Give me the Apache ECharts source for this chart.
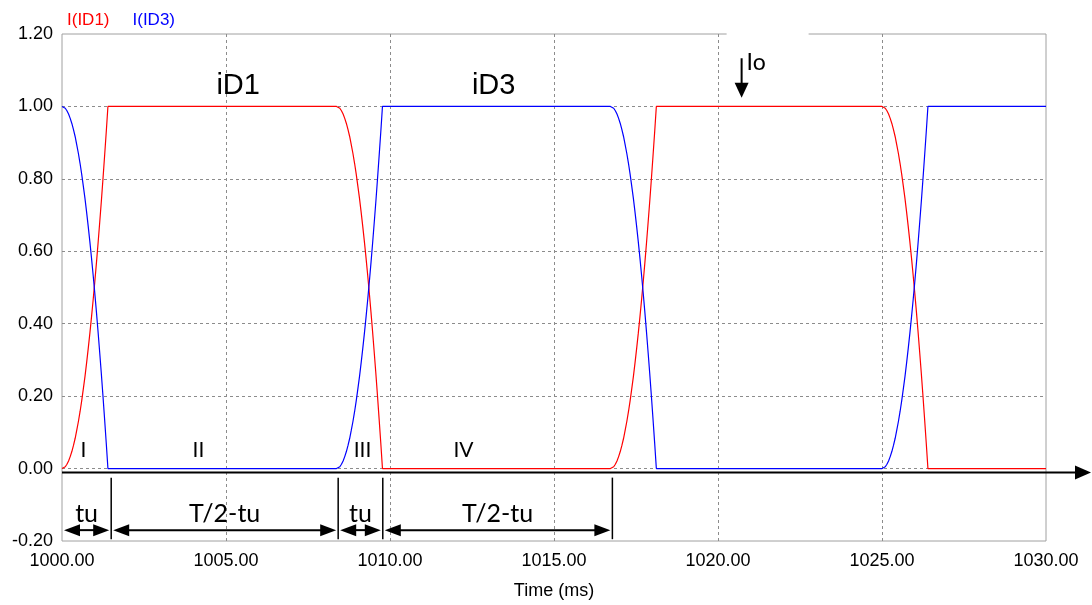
<!DOCTYPE html>
<html>
<head>
<meta charset="utf-8">
<title>I(ID1) I(ID3)</title>
<script src="https://cdn.jsdelivr.net/npm/echarts@6/dist/echarts.min.js"></script>
<style>
  html, body { margin: 0; padding: 0; background: #ffffff; }
  #chart { width: 1092px; height: 605px; }
</style>
</head>
<body>
<div id="chart"></div>
<script>
// Diode currents during commutation (time in ms, current per unit)
const seriesNames = ['I(ID1)', 'I(ID3)'];
const seriesColors = ['#ff0000', '#0000ff'];

// start of each commutation interval (ms)
const edgeStart = [1000.00, 1008.37, 1016.72, 1025.00];
// time offsets inside a commutation interval (ms)
const edgeStep = [0.00, 0.05, 0.10, 0.15, 0.20, 0.25, 0.30, 0.35, 0.40, 0.45,
                  0.50, 0.55, 0.60, 0.65, 0.70, 0.75, 0.80, 0.85, 0.90, 0.95,
                  1.00, 1.05, 1.10, 1.15, 1.20, 1.25, 1.30, 1.35, 1.40];
// incoming diode current during overlap
const riseShape = [0.000, 0.001, 0.005, 0.012, 0.021, 0.033, 0.047, 0.064, 0.083, 0.106,
                   0.130, 0.157, 0.187, 0.220, 0.254, 0.292, 0.332, 0.374, 0.419, 0.466,
                   0.516, 0.568, 0.623, 0.680, 0.739, 0.801, 0.865, 0.931, 1.000];
// outgoing diode current during overlap
const fallShape = [1.000, 0.999, 0.995, 0.988, 0.979, 0.967, 0.953, 0.936, 0.917, 0.894,
                   0.870, 0.843, 0.813, 0.780, 0.746, 0.708, 0.668, 0.626, 0.581, 0.534,
                   0.484, 0.432, 0.377, 0.320, 0.261, 0.199, 0.135, 0.069, 0.000];
// which diode takes the current at each edge: 1 = ID1 rises, 3 = ID3 rises
const edgeIncoming = [1, 3, 1, 3];
const endTime = 1030.00;

// axis ticks
const xTicks = { min: 1000, max: 1030, interval: 5 };
const yTicks = { min: -0.2, max: 1.2, interval: 0.2 };

// annotation data
const boundaryTimes = [1000.00, 1001.50, 1008.42, 1009.78, 1016.78];
const spanLabels = ['tu', 'T/2-tu', 'tu', 'T/2-tu'];
const intervalNames = ['I', 'II', 'III', 'IV'];
const intervalTimes = [1000.65, 1004.16, 1009.16, 1012.24];
const curveLabels = ['iD1', 'iD3'];
const curveLabelTimes = [1005.37, 1013.16];
const ioTime = 1020.72;

function buildSeries(diode) {
  const pts = [];
  edgeStart.forEach((t0, k) => {
    const shape = edgeIncoming[k] === diode ? riseShape : fallShape;
    edgeStep.forEach((dt, j) => pts.push([+(t0 + dt).toFixed(3), shape[j]]));
  });
  const last = pts[pts.length - 1][1];
  pts.push([endTime, last]);
  return pts;
}
const id1Data = buildSeries(1);
const id3Data = buildSeries(3);

const chart = echarts.init(document.getElementById('chart'), null, { renderer: 'canvas' });
const AX_FONT = 'Liberation Sans, Arial, sans-serif';
const NOTE_FONT = 'Lato, Noto Sans, sans-serif';

const option = {
  animation: false,
  backgroundColor: '#ffffff',
  legend: {
    left: 57, top: 7,
    icon: 'none', itemWidth: 0, itemHeight: 0, itemGap: 18,
    selectedMode: false,
    textStyle: { fontSize: 17, fontFamily: AX_FONT, padding: 0 },
    data: [
      { name: seriesNames[0], textStyle: { color: seriesColors[0] } },
      { name: seriesNames[1], textStyle: { color: seriesColors[1] } }
    ]
  },
  grid: {
    left: 62, right: 46, top: 34, bottom: 62,
    show: true, borderColor: '#a0a0a0', borderWidth: 1
  },
  xAxis: {
    type: 'value', min: xTicks.min, max: xTicks.max, interval: xTicks.interval,
    name: 'Time (ms)', nameLocation: 'middle', nameGap: 41,
    nameTextStyle: { fontSize: 18, fontFamily: AX_FONT, color: '#000' },
    axisLine: { show: false }, axisTick: { show: false },
    axisLabel: { fontSize: 18, fontFamily: AX_FONT, color: '#000', margin: 11,
      formatter: v => v.toFixed(2) },
    splitLine: { show: true, showMinLine: false, showMaxLine: false,
      lineStyle: { color: '#8c8c8c', type: [3, 3], width: 1 } }
  },
  yAxis: {
    type: 'value', min: yTicks.min, max: yTicks.max, interval: yTicks.interval,
    axisLine: { show: false }, axisTick: { show: false },
    axisLabel: { fontSize: 18, fontFamily: AX_FONT, color: '#000', margin: 9,
      formatter: v => v.toFixed(2) },
    splitLine: { show: true, showMinLine: false, showMaxLine: false,
      lineStyle: { color: '#8c8c8c', type: [3, 3], width: 1 } }
  },
  series: [
    { name: seriesNames[0], type: 'line', data: id1Data, showSymbol: false,
      color: seriesColors[0], lineStyle: { width: 1.2, color: seriesColors[0] } },
    { name: seriesNames[1], type: 'line', data: id3Data, showSymbol: false,
      color: seriesColors[1], lineStyle: { width: 1.2, color: seriesColors[1] } }
  ]
};
chart.setOption(option);

// ---- annotations drawn in pixel space from data coordinates ----
function px(t, v) { return chart.convertToPixel({ gridIndex: 0 }, [t, v]); }

function arrowHead(tipX, tipY, dir, len, half) {
  // dir: 'left' | 'right' | 'down'
  if (dir === 'left') return [[tipX, tipY], [tipX + len, tipY - half], [tipX + len, tipY + half]];
  if (dir === 'right') return [[tipX, tipY], [tipX - len, tipY - half], [tipX - len, tipY + half]];
  return [[tipX, tipY], [tipX - half, tipY - len], [tipX + half, tipY - len]];
}

function buildAnnotations() {
  const g = [];
  const black = '#000000';

  // time axis arrow just below the zero line
  const axY = px(1000, -0.011)[1];
  const axX0 = px(1000, 0)[0];
  const tipX = 1091;
  g.push({ type: 'line', shape: { x1: axX0, y1: axY, x2: tipX - 10, y2: axY },
    style: { stroke: black, lineWidth: 2 }, z: 100 });
  g.push({ type: 'polygon', shape: { points: arrowHead(tipX, axY, 'right', 16, 7) },
    style: { fill: black }, z: 100 });

  // boundary markers
  boundaryTimes.slice(1).forEach(t => {
    const a = px(t, -0.025), b = px(t, -0.195);
    g.push({ type: 'line', shape: { x1: a[0], y1: a[1], x2: b[0], y2: b[1] },
      style: { stroke: black, lineWidth: 1.5 }, z: 100 });
  });

  // double arrows with span labels
  for (let i = 0; i < spanLabels.length; i++) {
    const l = px(boundaryTimes[i], -0.17), r = px(boundaryTimes[i + 1], -0.17);
    const x1 = l[0] + 2, x2 = r[0] - 2, y = l[1];
    g.push({ type: 'line', shape: { x1: x1 + 10, y1: y, x2: x2 - 10, y2: y },
      style: { stroke: black, lineWidth: 2 }, z: 100 });
    g.push({ type: 'polygon', shape: { points: arrowHead(x1, y, 'left', 16, 6) },
      style: { fill: black }, z: 100 });
    g.push({ type: 'polygon', shape: { points: arrowHead(x2, y, 'right', 16, 6) },
      style: { fill: black }, z: 100 });
    const c = px((boundaryTimes[i] + boundaryTimes[i + 1]) / 2, -0.125);
    g.push({ type: 'text', x: c[0], y: c[1], z: 101,
      style: { text: spanLabels[i], fill: black, font: '25px ' + NOTE_FONT,
        textAlign: 'center', textVerticalAlign: 'middle' } });
  }

  // interval numerals
  intervalNames.forEach((name, i) => {
    const c = px(intervalTimes[i], 0.05);
    g.push({ type: 'text', x: c[0], y: c[1], z: 101,
      style: { text: name, fill: black, font: '21px ' + NOTE_FONT,
        textAlign: 'center', textVerticalAlign: 'middle' } });
  });

  // curve names
  curveLabels.forEach((name, i) => {
    const c = px(curveLabelTimes[i], 1.057);
    g.push({ type: 'text', x: c[0], y: c[1], z: 101,
      style: { text: name, fill: black, font: '29px ' + AX_FONT,
        textAlign: 'center', textVerticalAlign: 'middle' } });
  });

  // load current marker Io
  const ioTip = px(ioTime, 1.024), ioTop = px(ioTime, 1.133);
  const boxTop = px(ioTime, 1.2);
  g.push({ type: 'rect', shape: { x: ioTip[0] - 15, y: boxTop[1] - 4, width: 82, height: 8 },
    style: { fill: '#ffffff' }, z: 99 });
  g.push({ type: 'line', shape: { x1: ioTop[0], y1: ioTop[1], x2: ioTip[0], y2: ioTip[1] - 10 },
    style: { stroke: black, lineWidth: 2 }, z: 100 });
  g.push({ type: 'polygon', shape: { points: arrowHead(ioTip[0], ioTip[1], 'down', 15, 7) },
    style: { fill: black }, z: 100 });
  g.push({ type: 'text', x: ioTip[0] + 5, y: ioTop[1] + 4, z: 101,
    style: { text: 'Io', fill: black, font: '23px ' + NOTE_FONT,
      textAlign: 'left', textVerticalAlign: 'middle' } });

  return g;
}

chart.setOption({ graphic: { elements: buildAnnotations() } });
</script>
</body>
</html>
